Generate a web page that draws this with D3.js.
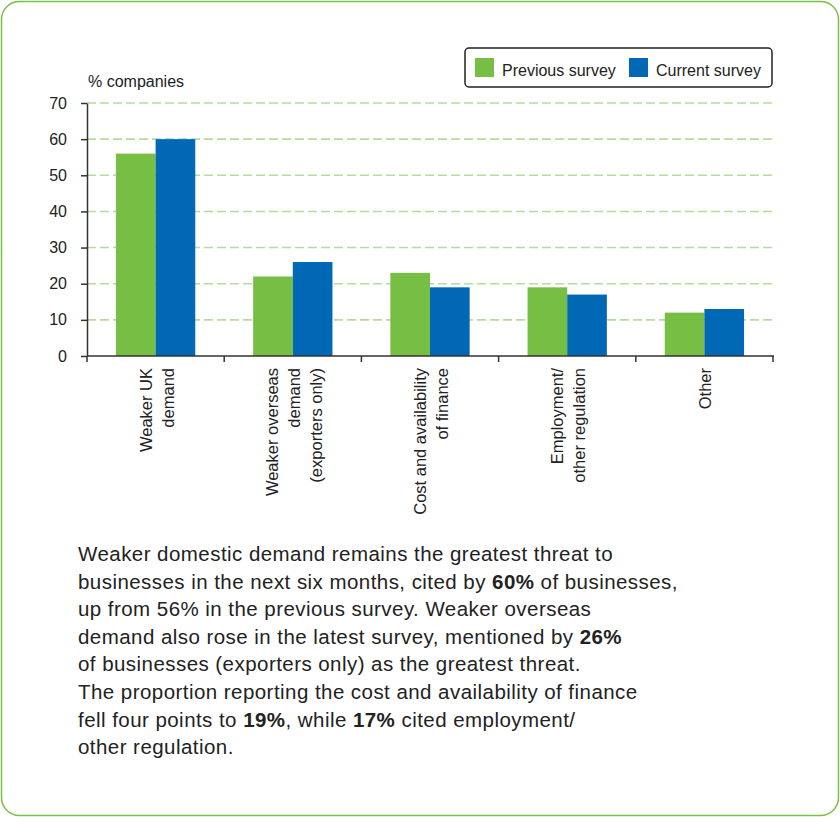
<!DOCTYPE html>
<html>
<head>
<meta charset="utf-8">
<script src="https://cdn.jsdelivr.net/npm/d3@7"></script>
<style>
  html, body { margin: 0; padding: 0; background: #fff; }
  svg { display: block; font-family: "Liberation Sans", Arial, sans-serif; }
</style>
</head>
<body>
<script>
"use strict";
// data
const categories = [
  ["Weaker UK", "demand"],
  ["Weaker overseas", "demand", "(exporters only)"],
  ["Cost and availability", "of finance"],
  ["Employment/", "other regulation"],
  ["Other"]
];
const previousSurvey = [56, 22, 23, 19, 12];
const currentSurvey = [60, 26, 19, 17, 13];
const seriesNames = ["Previous survey", "Current survey"];
const yTicks = [0, 10, 20, 30, 40, 50, 60, 70];
const paragraph = [
  [["Weaker domestic demand remains the greatest threat to", false]],
  [["businesses in the next six months, cited by ", false], ["60%", true], [" of businesses,", false]],
  [["up from 56% in the previous survey. Weaker overseas", false]],
  [["demand also rose in the latest survey, mentioned by ", false], ["26%", true]],
  [["of businesses (exporters only) as the greatest threat.", false]],
  [["The proportion reporting the cost and availability of finance", false]],
  [["fell four points to ", false], ["19%", true], [", while ", false], ["17%", true], [" cited employment/", false]],
  [["other regulation.", false]]
];

const colors = ["#77bf44", "#0068b4"];
const W = 840, H = 817;
const plot = {left: 87, right: 773, top: 103, bottom: 356};

const svg = d3.select("body").append("svg")
  .attr("width", W)
  .attr("height", H);

// outer frame
svg.append("rect")
  .attr("x", 1.5).attr("y", 1.5)
  .attr("width", W - 3).attr("height", H - 3)
  .attr("rx", 18).attr("ry", 18)
  .attr("fill", "#fff")
  .attr("stroke", "#7ac143")
  .attr("stroke-width", 1.5);

const x0 = d3.scaleBand()
  .domain(d3.range(categories.length))
  .range([plot.left, plot.right])
  .padding(0);

const x1 = d3.scaleBand()
  .domain([0, 1])
  .range([0, x0.bandwidth()])
  .paddingInner(0)
  .paddingOuter(0.73);

const y = d3.scaleLinear()
  .domain([0, 70])
  .range([plot.bottom, plot.top]);

// gridlines
svg.append("g")
  .selectAll("line")
  .data(yTicks.slice(1))
  .join("line")
  .attr("x1", plot.left).attr("x2", plot.right)
  .attr("y1", d => y(d)).attr("y2", d => y(d))
  .attr("stroke", "#b5dc9c")
  .attr("stroke-width", 1.6)
  .attr("stroke-dasharray", "9,4");

// bars
const groups = svg.append("g")
  .selectAll("g")
  .data(categories.map((c, i) => [previousSurvey[i], currentSurvey[i]]))
  .join("g")
  .attr("transform", (d, i) => `translate(${x0(i)},0)`);

groups.selectAll("rect")
  .data(d => d)
  .join("rect")
  .attr("x", (d, i) => x1(i))
  .attr("width", x1.bandwidth())
  .attr("y", d => y(d))
  .attr("height", d => y(0) - y(d))
  .attr("fill", (d, i) => colors[i]);

// y axis
const yAxis = svg.append("g")
  .attr("transform", `translate(${plot.left},0)`)
  .call(d3.axisLeft(y).tickValues(yTicks).tickSize(6).tickPadding(14).tickSizeOuter(0));
yAxis.select(".domain").attr("stroke", "#333").attr("stroke-width", 1.5);
yAxis.selectAll(".tick line").attr("stroke", "#333").attr("stroke-width", 1.5);
yAxis.selectAll(".tick text")
  .attr("font-size", 16)
  .attr("fill", "#222")
  .attr("font-family", "Liberation Sans, Arial, sans-serif");

// x axis
const bounds = d3.range(categories.length + 1).map(i => i < categories.length ? x0(i) : x0(i - 1) + x0.bandwidth());
const xAxisG = svg.append("g");
xAxisG.append("line")
  .attr("x1", plot.left).attr("x2", plot.right + 1)
  .attr("y1", y(0)).attr("y2", y(0))
  .attr("stroke", "#333").attr("stroke-width", 1.5);
xAxisG.selectAll(".xt")
  .data(bounds)
  .join("line")
  .attr("class", "xt")
  .attr("x1", d => d).attr("x2", d => d)
  .attr("y1", y(0)).attr("y2", y(0) + 6)
  .attr("stroke", "#333").attr("stroke-width", 1.5);

// category labels, rotated
const lineGap = 22;
const labels = svg.append("g")
  .selectAll("text")
  .data(categories)
  .join("text")
  .attr("font-size", 16.5)
  .attr("fill", "#222")
  .attr("text-anchor", "end")
  .attr("transform", (d, i) => {
    const cx = x0(i) + x0.bandwidth() / 2 + 7 - (d.length - 1) * lineGap / 2;
    return `translate(${cx},${y(0) + 12}) rotate(-90)`;
  });
labels.selectAll("tspan")
  .data(d => d)
  .join("tspan")
  .attr("x", 0)
  .attr("y", (d, i) => i * lineGap)
  .text(d => d);

// y title
svg.append("text")
  .attr("x", 88).attr("y", 87)
  .attr("font-size", 16)
  .attr("fill", "#222")
  .text("% companies");

// legend
const legend = svg.append("g");
legend.append("rect")
  .attr("x", 465).attr("y", 48)
  .attr("width", 307).attr("height", 39)
  .attr("rx", 4)
  .attr("fill", "#fff")
  .attr("stroke", "#222")
  .attr("stroke-width", 1.5);
const legendX = [475, 629];
seriesNames.forEach((name, i) => {
  legend.append("rect")
    .attr("x", legendX[i]).attr("y", 58)
    .attr("width", 19).attr("height", 19)
    .attr("fill", colors[i]);
  legend.append("text")
    .attr("x", legendX[i] + 27).attr("y", 76)
    .attr("font-size", 16)
    .attr("fill", "#222")
    .text(name);
});

// paragraph
const para = svg.append("g");
paragraph.forEach((line, i) => {
  const t = para.append("text")
    .attr("x", 78)
    .attr("y", 561 + i * 27.6)
    .attr("font-size", 20.5)
    .attr("letter-spacing", 0.45)
    .attr("fill", "#222");
  line.forEach(([s, bold]) => {
    t.append("tspan")
      .attr("font-weight", bold ? "bold" : "normal")
      .text(s);
  });
});
</script>
</body>
</html>
